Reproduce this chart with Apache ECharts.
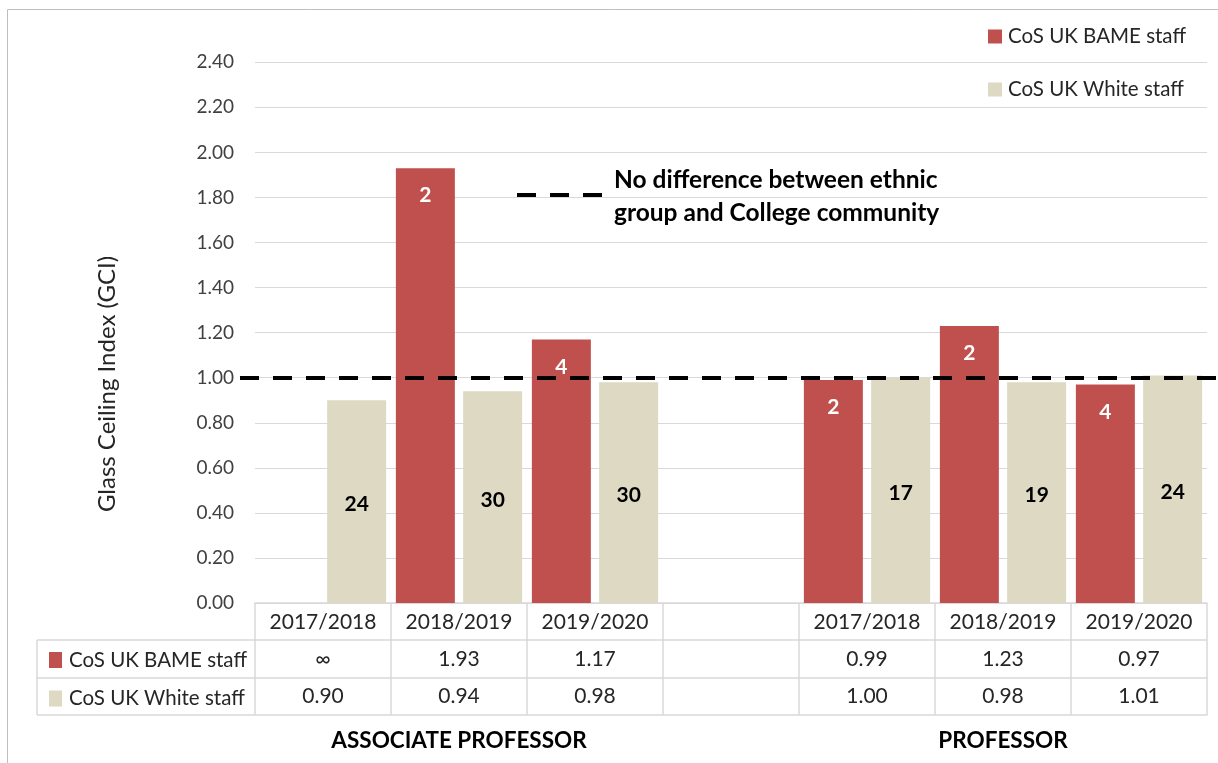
<!DOCTYPE html>
<html>
<head>
<meta charset="utf-8">
<title>Glass Ceiling Index by ethnic group</title>
<script src="https://cdn.jsdelivr.net/npm/echarts/dist/echarts.min.js"></script>
<style>
  html, body { margin: 0; padding: 0; background: #ffffff; }
  #chart { width: 1218px; height: 763px; }
</style>
</head>
<body>
<div id="chart"></div>
<script>
// Academic years per grade (blank slot separates the two grades)
const years = ['2017/2018', '2018/2019', '2019/2020', '', '2017/2018', '2018/2019', '2019/2020'];
// Grade names, written under the middle year of each group
const gradeNames = ['', 'ASSOCIATE PROFESSOR', '', '', '', 'PROFESSOR', ''];
// Glass Ceiling Index values (Infinity = no BAME staff in the comparison grade)
const bameGci = [Infinity, 1.93, 1.17, null, 0.99, 1.23, 0.97];
const whiteGci = [0.90, 0.94, 0.98, null, 1.00, 0.98, 1.01];
// Headcounts printed inside the bars
const bameCount = [null, 2, 4, null, 2, 2, 4];
const whiteCount = [24, 30, 30, null, 17, 19, 24];
// Value axis range
const yMin = 0, yMax = 2.4, yStep = 0.2;
// Parity reference: GCI of 1 means no difference
const parityValue = 1.0;

const seriesNames = ['CoS UK BAME staff', 'CoS UK White staff'];
const colors = ['#C0504D', '#DDD9C3'];
const FONT = 'Lato, "Open Sans", sans-serif';
const TEXT = '#262626';
const RULE = '#D9D9D9';

// Layout
const W = 1218, H = 763;
const plotLeft = 255, plotRight = 1207, plotTop = 62.3, axisY = 603;
const rowLines = [640, 678, 715];   // table row separators below the axis
const labelColLeft = 37;

function gciText(v) {
  if (v === Infinity) return '\u221E';
  if (v == null) return '';
  return v.toFixed(2);
}
function barValue(v) {
  return Number.isFinite(v) ? v : '-';
}

const chart = echarts.init(document.getElementById('chart'), null, { renderer: 'canvas' });

const tableAxis = (offset, formatter, margin, extra) => Object.assign({
  type: 'category',
  data: years,
  position: 'bottom',
  gridIndex: 0,
  offset: offset,
  silent: true,
  axisLine: { show: true, lineStyle: { color: RULE, width: 1.5 } },
  axisTick: { show: false },
  splitLine: { show: false },
  axisLabel: {
    interval: 0,
    margin: margin,
    fontFamily: FONT,
    fontSize: 21,
    lineHeight: 22,
    color: TEXT,
    formatter: formatter
  }
}, extra || {});

const option = {
  backgroundColor: '#ffffff',
  animation: false,
  textStyle: { fontFamily: FONT },
  grid: {
    left: plotLeft,
    right: W - plotRight,
    top: plotTop,
    bottom: H - axisY,
    containLabel: false
  },
  legend: [
    {
      data: seriesNames,
      orient: 'vertical',
      left: 983,
      top: 21,
      icon: 'rect',
      itemWidth: 14,
      itemHeight: 14,
      itemGap: 32,
      selectedMode: false,
      textStyle: { fontFamily: FONT, fontSize: 20.5, lineHeight: 20, color: TEXT, padding: [0, 0, 0, 1] }
    },
    {
      data: seriesNames,
      orient: 'vertical',
      left: 44,
      top: 644.5,
      icon: 'rect',
      itemWidth: 13,
      itemHeight: 16,
      itemGap: 17.5,
      selectedMode: false,
      textStyle: { fontFamily: FONT, fontSize: 20.5, lineHeight: 20, color: TEXT, padding: [0, 0, 0, 2] }
    }
  ],
  xAxis: [
    // Header row: years, with the column rules drawn as long ticks
    tableAxis(0, v => v, 8, {
      axisTick: { show: true, interval: 0, length: rowLines[2] - axisY, lineStyle: { color: RULE, width: 1.5 } }
    }),
    // BAME GCI row
    tableAxis(rowLines[0] - axisY, (v, i) => gciText(bameGci[i]), 8),
    // White GCI row
    tableAxis(rowLines[1] - axisY, (v, i) => gciText(whiteGci[i]), 7),
    // Bottom rule and grade names
    tableAxis(rowLines[2] - axisY, (v, i) => gradeNames[i], 15, {
      axisLabel: {
        interval: 0, margin: 15, fontFamily: FONT, fontSize: 22.5, fontWeight: 'bold',
        lineHeight: 22, color: '#000', formatter: (v, i) => gradeNames[i]
      }
    })
  ],
  yAxis: {
    type: 'value',
    min: yMin,
    max: yMax,
    interval: yStep,
    axisLine: { show: false },
    axisTick: { show: false },
    splitLine: { lineStyle: { color: RULE, width: 1 } },
    axisLabel: {
      margin: 21,
      fontFamily: FONT,
      fontSize: 19,
      color: '#404040',
      formatter: v => v.toFixed(2)
    }
  },
  series: [
    {
      name: seriesNames[0],
      type: 'bar',
      xAxisIndex: 0,
      data: bameGci.map(barValue),
      barWidth: 59,
      barGap: '14%',
      itemStyle: { color: colors[0] },
      label: {
        show: true,
        position: 'insideTop',
        distance: 17,
        color: '#ffffff',
        fontFamily: FONT,
        fontWeight: 'bold',
        fontSize: 21,
        formatter: p => (bameCount[p.dataIndex] == null ? '' : String(bameCount[p.dataIndex]))
      },
      markLine: {
        silent: true,
        symbol: ['none', 'none'],
        label: { show: false },
        lineStyle: { color: '#000000', width: 4, type: [19, 14] },
        data: [[{ x: 240, yAxis: parityValue }, { x: W, yAxis: parityValue }]]
      }
    },
    {
      name: seriesNames[1],
      type: 'bar',
      xAxisIndex: 0,
      data: whiteGci.map(barValue),
      barWidth: 59,
      barGap: '14%',
      itemStyle: { color: colors[1] },
      label: {
        show: true,
        position: 'inside',
        offset: [0, 3],
        color: '#000000',
        fontFamily: FONT,
        fontWeight: 'bold',
        fontSize: 21,
        formatter: p => (whiteCount[p.dataIndex] == null ? '' : String(whiteCount[p.dataIndex]))
      }
    }
  ],
  graphic: [
    // Outer chart frame
    {
      type: 'rect', silent: true, z: -1,
      shape: { x: 7.5, y: 9.5, width: W + 20, height: H + 20 },
      style: { fill: null, stroke: '#BFBFBF', lineWidth: 1 }
    },
    // Series-name column of the data table
    {
      type: 'group', silent: true,
      children: rowLines.map(y => ({
        type: 'line',
        shape: { x1: labelColLeft, y1: y, x2: plotLeft, y2: y },
        style: { stroke: RULE, lineWidth: 1.5 }
      })).concat([{
        type: 'line',
        shape: { x1: labelColLeft, y1: rowLines[0], x2: labelColLeft, y2: rowLines[2] },
        style: { stroke: RULE, lineWidth: 1.5 }
      }])
    },
    // Value axis title
    {
      type: 'text', silent: true,
      x: 107, y: 384, rotation: Math.PI / 2,
      style: {
        text: 'Glass Ceiling Index (GCI)',
        fontFamily: FONT, fontSize: 24, fill: TEXT,
        align: 'center', verticalAlign: 'middle'
      }
    },
    // Key for the parity line
    {
      type: 'line', silent: true,
      shape: { x1: 517, y1: 195, x2: 602, y2: 195 },
      style: { stroke: '#000000', lineWidth: 4, lineDash: [19, 14] }
    },
    {
      type: 'text', silent: true,
      x: 614, y: 164,
      style: {
        text: 'No difference between ethnic\ngroup and College community',
        fontFamily: FONT, fontSize: 24.5, fontWeight: 'bold', lineHeight: 33,
        fill: '#000000', align: 'left', verticalAlign: 'top'
      }
    }
  ]
};

chart.setOption(option);
</script>
</body>
</html>
